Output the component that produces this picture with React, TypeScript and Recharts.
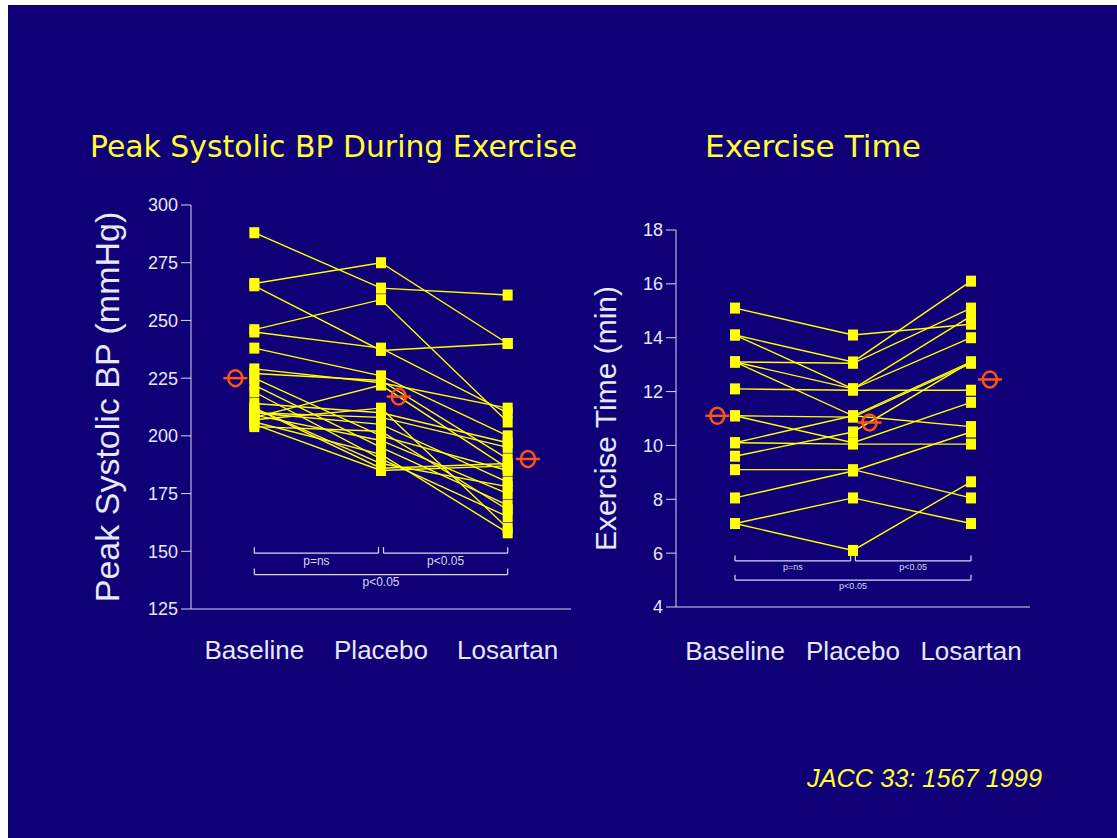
import { LineChart, Line, XAxis, YAxis, ReferenceLine } from "recharts";

const groups = ["Baseline", "Placebo", "Losartan"];

// peak systolic BP (mmHg), one entry per patient
const bpBaseline = [288, 266, 265, 246, 245, 238, 229, 227, 225, 222, 219, 214, 212, 210, 209, 208, 207, 206, 205, 204, 210, 212];
const bpPlacebo = [264, 275, 237, 259, 238, 226, 223, 224, 200, 195, 190, 210, 186, 205, 198, 222, 212, 192, 185, 202, 208, 188];
const bpLosartan = [261, 240, 240, 206, 210, 200, 212, 190, 185, 170, 165, 197, 188, 180, 175, 186, 160, 158, 187, 168, 195, 178];
const bpMeans = [225, 217, 190];
const bpTicks = [125, 150, 175, 200, 225, 250, 275, 300];

// exercise time (min), one entry per patient
const exBaseline = [15.1, 14.1, 14.1, 13.1, 13.1, 13.1, 12.1, 11.1, 11.1, 10.1, 9.6, 9.1, 8.05, 7.1, 7.1, 10.1];
const exPlacebo = [14.1, 13.1, 12.1, 13.05, 12.1, 11.1, 12.05, 11.05, 10.1, 10.05, 10.5, 9.1, 9.05, 8.05, 6.1, 11.1];
const exLosartan = [14.5, 16.1, 14.8, 15.1, 14.0, 13.1, 12.05, 13.05, 11.6, 10.05, 13.1, 8.05, 10.5, 7.1, 8.65, 10.7];
const exMeans = [11.1, 10.85, 12.45];
const exTicks = [4, 6, 8, 10, 12, 14, 16, 18];

const BG = "#0f0078";
const YELLOW = "#ffff00";
const TITLE = "#ffff33";
const ORANGE = "#ff5511";
const AXIS = "#d8d8ee";
const TEXT = "#e8e8f8";
const FONT = "'Liberation Sans', Arial, sans-serif";
// mean markers sit a little beside each column
const MEAN_SHIFT = [-0.15, 0.14, 0.16];

const Square = (props: any) => {
  const { cx, cy, index } = props;
  if (cx == null || cy == null) return null;
  return <rect key={`sq-${index}`} x={cx - 5} y={cy - 5.5} width={10} height={11} fill={YELLOW} />;
};

const MeanMark = (props: any) => {
  const { cx, cy, index } = props;
  if (cx == null || cy == null) return null;
  return (
    <g key={`mm-${index}`}>
      <line x1={cx - 12} x2={cx + 12} y1={cy} y2={cy} stroke={ORANGE} strokeWidth={2.5} />
      <ellipse cx={cx} cy={cy} rx={7} ry={8} fill="none" stroke={ORANGE} strokeWidth={2.5} />
    </g>
  );
};

function YLabel({ viewBox, value, gap, size }: any) {
  const x = viewBox.x + viewBox.width - gap;
  const y = viewBox.y + viewBox.height / 2;
  return (
    <text
      x={x}
      y={y}
      transform={`rotate(-90 ${x} ${y})`}
      textAnchor="middle"
      dominantBaseline="central"
      fill={TEXT}
      fontSize={size}
      fontFamily={FONT}
    >
      {value}
    </text>
  );
}

function Panel({ base, plac, los, means, ticks, label, labelGap, labelSize, pos, margin, xHeight, xMargin, brackets, tip, pSize }: any) {
  const series = base.map((b: number, i: number) => [
    { x: 0, y: b },
    { x: 1, y: plac[i] },
    { x: 2, y: los[i] },
  ]);
  const meanPts = means.map((m: number, i: number) => ({ x: i + MEAN_SHIFT[i], y: m }));
  return (
    <div style={{ position: "absolute", left: pos.left, top: pos.top }}>
      <LineChart width={pos.width} height={pos.height} margin={margin}>
        <XAxis
          type="number"
          dataKey="x"
          domain={[-0.5, 2.5]}
          ticks={[0, 1, 2]}
          tickFormatter={(v: number) => groups[v]}
          tickLine={false}
          tickSize={0}
          tickMargin={xMargin}
          height={xHeight}
          stroke={AXIS}
          tick={{ fill: TEXT, fontSize: 26, fontFamily: FONT }}
          allowDataOverflow
        />
        <YAxis
          type="number"
          dataKey="y"
          domain={[ticks[0], ticks[ticks.length - 1]]}
          ticks={ticks}
          interval={0}
          width={60}
          tickSize={10}
          tickMargin={3}
          stroke={AXIS}
          tick={{ fill: TEXT, fontSize: 18, fontFamily: FONT }}
          allowDataOverflow
          label={(p: any) => <YLabel {...p} value={label} gap={labelGap} size={labelSize} />}
        />
        {brackets.map((br: any, i: number) => (
          <ReferenceLine
            key={`h${i}`}
            segment={[{ x: br.from, y: br.level }, { x: br.to, y: br.level }]}
            stroke={AXIS}
            strokeWidth={1.2}
            label={{ value: br.text, position: "bottom", offset: 3, fill: AXIS, fontSize: pSize, fontFamily: FONT }}
          />
        ))}
        {brackets.map((br: any, i: number) => (
          <ReferenceLine key={`l${i}`} segment={[{ x: br.from, y: br.level }, { x: br.from, y: br.level + tip }]} stroke={AXIS} strokeWidth={1.2} />
        ))}
        {brackets.map((br: any, i: number) => (
          <ReferenceLine key={`r${i}`} segment={[{ x: br.to, y: br.level }, { x: br.to, y: br.level + tip }]} stroke={AXIS} strokeWidth={1.2} />
        ))}
        {series.map((s: any, i: number) => (
          <Line key={`ln${i}`} data={s} dataKey="y" stroke={YELLOW} strokeWidth={1.4} dot={false} activeDot={false} isAnimationActive={false} />
        ))}
        {series.map((s: any, i: number) => (
          <Line key={`pt${i}`} data={s} dataKey="y" stroke="none" dot={Square} activeDot={false} isAnimationActive={false} />
        ))}
        <Line data={meanPts} dataKey="y" stroke="none" dot={MeanMark} activeDot={false} isAnimationActive={false} />
      </LineChart>
    </div>
  );
}

export default function App() {
  return (
    <div style={{ position: "absolute", left: 0, top: 0, width: 1117, height: 838, background: "#fff", overflow: "hidden" }}>
      <svg width={1117} height={838} style={{ position: "absolute", left: 0, top: 0 }}>
        <rect x={8} y={5} width={1109} height={833} fill={BG} />
        <text x={90} y={157} fill={TITLE} fontSize={30} fontFamily="'DejaVu Sans', sans-serif" textLength={487} lengthAdjust="spacingAndGlyphs">
          Peak Systolic BP During Exercise
        </text>
        <text x={705} y={157} fill={TITLE} fontSize={30} fontFamily="'DejaVu Sans', sans-serif" textLength={216} lengthAdjust="spacingAndGlyphs">
          Exercise Time
        </text>
        <text x={807} y={787} fill={TITLE} fontSize={25} fontStyle="italic" fontFamily={FONT} textLength={235} lengthAdjust="spacingAndGlyphs">
          JACC 33: 1567 1999
        </text>
      </svg>
      <Panel
        base={bpBaseline}
        plac={bpPlacebo}
        los={bpLosartan}
        means={bpMeans}
        ticks={bpTicks}
        label="Peak Systolic BP (mmHg)"
        labelGap={84}
        labelSize={34}
        pos={{ left: 60, top: 180, width: 540, height: 500 }}
        margin={{ top: 25, right: 29, bottom: 11, left: 71 }}
        xHeight={60}
        xMargin={32}
        tip={2.6}
        pSize={12}
        brackets={[
          { from: 0, to: 0.98, level: 149.2, text: "p=ns" },
          { from: 1.02, to: 2, level: 149.2, text: "p<0.05" },
          { from: 0, to: 2, level: 139.9, text: "p<0.05" },
        ]}
      />
      <Panel
        base={exBaseline}
        plac={exPlacebo}
        los={exLosartan}
        means={exMeans}
        ticks={exTicks}
        label="Exercise Time (min)"
        labelGap={71}
        labelSize={30}
        pos={{ left: 560, top: 200, width: 500, height: 470 }}
        margin={{ top: 30, right: 30, bottom: 13, left: 56 }}
        xHeight={50}
        xMargin={35}
        tip={0.2}
        pSize={9}
        brackets={[
          { from: 0, to: 0.98, level: 5.71, text: "p=ns" },
          { from: 1.02, to: 2, level: 5.71, text: "p<0.05" },
          { from: 0, to: 2, level: 5.0, text: "p<0.05" },
        ]}
      />
    </div>
  );
}
